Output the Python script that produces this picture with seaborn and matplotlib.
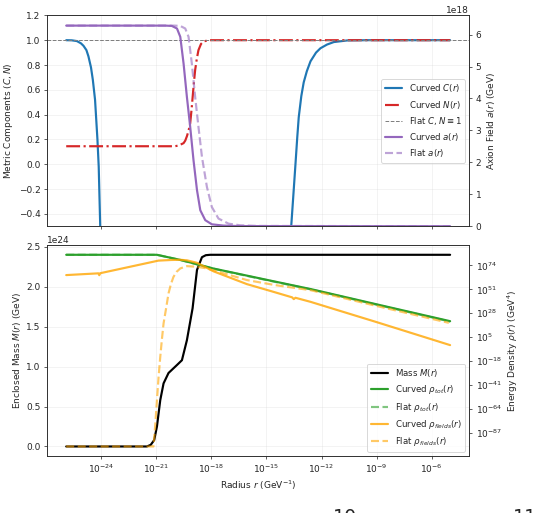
import numpy as np
import matplotlib
matplotlib.use("Agg")
import matplotlib.pyplot as plt
import seaborn as sns

# ---------------- data (log10 radius in GeV^-1) ----------------
# Top panel: metric components
logr_C = [-25.9, -25.6, -25.32, -25.1, -24.96, -24.8, -24.69, -24.55, -24.45, -24.33,
          -24.2, -24.13, -24.05, -23.95, -23.5, -19.0, -15.0, -14.0, -13.8, -13.65,
          -13.52, -13.41, -13.32, -13.24, -13.1, -12.97, -12.8, -12.6, -12.3, -12.06,
          -11.7, -11.33, -10.6, -9.5, -5.0]
C_curved = [1.0, 0.999, 0.993, 0.975, 0.955, 0.92, 0.87, 0.78, 0.68, 0.52,
            0.2, -0.02, -0.49, -1.2, -6.0, -60.0, -15.0, -2.0, -0.85, -0.5,
            -0.22, 0.02, 0.22, 0.38, 0.55, 0.66, 0.75, 0.83, 0.90, 0.935,
            0.965, 0.985, 0.998, 1.0, 1.0]

logr_N = [-25.9, -20.0, -19.79, -19.65, -19.51, -19.42, -19.33, -19.24, -19.15, -19.07,
          -19.0, -18.94, -18.88, -18.79, -18.70, -18.56, -18.42, -18.15, -5.0]
N_curved = [0.145, 0.145, 0.15, 0.16, 0.17, 0.19, 0.225, 0.27, 0.33, 0.45,
            0.57, 0.67, 0.76, 0.85, 0.92, 0.97, 0.99, 1.0, 1.0]

flat_CN = 1.0

# axion field (units of 1e18 GeV)
logr_a = [-25.9, -20.5, -20.15, -19.87, -19.69, -19.51, -19.33, -19.15, -18.97, -18.78,
          -18.60, -18.33, -17.97, -17.34, -16.5, -5.0]
a_curved = [6.28, 6.28, 6.27, 6.19, 5.93, 5.09, 4.05, 3.11, 2.07, 1.13,
            0.50, 0.19, 0.06, 0.02, 0.005, 0.0]
logr_af = [-25.9, -20.0, -19.69, -19.42, -19.24, -19.06, -18.88, -18.70, -18.51, -18.24,
           -17.97, -17.61, -17.06, -16.43, -15.5, -5.0]
a_flat = [6.28, 6.28, 6.27, 6.19, 5.93, 5.09, 4.05, 3.11, 2.17, 1.23,
          0.60, 0.24, 0.08, 0.03, 0.01, 0.0]

# Bottom panel: enclosed mass (units of 1e24 GeV)
logr_M = [-25.9, -21.8, -21.51, -21.3, -21.11, -20.96, -20.78, -20.60, -20.33, -19.87,
          -19.60, -19.33, -19.02, -18.78, -18.51, -18.3, -18.06, -5.0]
M_mass = [0.0, 0.0, 0.0, 0.02, 0.08, 0.25, 0.58, 0.79, 0.92, 1.02,
          1.08, 1.33, 1.73, 2.21, 2.37, 2.395, 2.4, 2.4]

# energy densities (log10 of GeV^4)
logr_tot = [-25.9, -20.96, -19.69, -17.88, -15.0, -12.6, -9.0, -5.0]
rho_tot_curved = [84.2, 84.2, 79.3, 71.0, 60.2, 51.3, 36.6, 20.4]
rho_tot_flat = [84.2, 84.2, 79.2, 70.8, 59.9, 51.0, 36.2, 20.0]

logr_fc = [-25.9, -24.23, -24.15, -24.10, -24.05, -20.88, -20.2, -19.69, -19.33, -18.78,
           -17.88, -16.06, -14.79, -13.6, -13.51, -13.42, -12.6, -9.0, -5.0]
rho_fields_curved = [64.7, 66.3, 66.4, 64.6, 66.5, 78.6, 79.2, 79.4, 78.9, 76.5,
                     68.3, 56.0, 49.5, 43.3, 41.6, 42.9, 39.0, 19.5, -2.6]

logr_ff = [-25.9, -21.3, -21.15, -21.06, -20.96, -20.87, -20.78, -20.69, -20.60, -20.45,
           -20.33, -20.2, -20.06, -19.88, -19.69, -19.33, -18.78, -18.24, -16.06, -14.5,
           -12.6, -9.0, -5.07]
rho_fields_flat = [-100.0, -100.0, -100.0, -81.0, -55.5, -33.0, -14.0, 3.0, 18.2, 34.0,
                   47.1, 56.0, 63.0, 68.0, 71.1, 73.3, 72.7, 71.1, 59.9, 55.0,
                   50.2, 35.0, 18.8]

def R(v):
    return 10.0 ** np.asarray(v, dtype=float)

# ---------------- style ----------------
sns.set_style("ticks")
plt.rcParams['font.family'] = ['DejaVu Sans']
plt.rcParams.update({
    'xtick.minor.size': 0, 'ytick.minor.size': 0,
    'legend.fontsize': 9.5,
})

DPI = 65
fig, (ax1, ax3) = plt.subplots(2, 1, sharex=True, figsize=(533 / DPI, 513 / DPI), dpi=DPI)
fig.subplots_adjust(left=0.0882, right=0.8805, top=0.970, bottom=0.111, hspace=0.09)
ax1.set_xscale('log')
ax2 = ax1.twinx()
ax4 = ax3.twinx()
ax4.set_yscale('log')

LW = 2.4

# ---- top panel ----
sns.lineplot(x=R(logr_C), y=C_curved, ax=ax1, color='#1f77b4', lw=LW,
             errorbar=None, label='Curved $C(r)$')
sns.lineplot(x=R(logr_N), y=N_curved, ax=ax1, color='#d62728', lw=LW, linestyle='-.',
             errorbar=None, label='Curved $N(r)$')
ax1.axhline(flat_CN, color='gray', lw=1.1, linestyle='--', label=r'Flat $C,N\equiv1$')
ax1.set_ylim(-0.5, 1.2)
ax1.set_ylabel('Metric Components $(C,N)$')
ax1.grid(True, alpha=0.3)

sns.lineplot(x=R(logr_a), y=np.array(a_curved) * 1e18, ax=ax2, color='#9467bd', lw=LW,
             errorbar=None, label='Curved $a(r)$')
sns.lineplot(x=R(logr_af), y=np.array(a_flat) * 1e18, ax=ax2, color='#9467bd', lw=LW,
             alpha=0.6, linestyle='--', errorbar=None, label='Flat $a(r)$')
ax2.set_ylim(0, 6.6e18)
ax2.set_ylabel('Axion Field $a(r)$ (GeV)')

h1, l1 = ax1.get_legend_handles_labels()
h2, l2 = ax2.get_legend_handles_labels()
for a in (ax1, ax2):
    if a.get_legend() is not None:
        a.get_legend().remove()
ax2.legend(h1 + h2, l1 + l2, loc='center right')

# ---- bottom panel ----
sns.lineplot(x=R(logr_M), y=np.array(M_mass) * 1e24, ax=ax3, color='black', lw=LW,
             errorbar=None, label='Mass $M(r)$')
ax3.set_ylabel('Enclosed Mass $M(r)$ (GeV)')
ax3.set_xlabel('Radius $r$ (GeV$^{-1}$)')
ax3.grid(True, alpha=0.3)

sns.lineplot(x=R(logr_tot), y=R(rho_tot_curved), ax=ax4, color='#2ca02c', lw=LW,
             errorbar=None, label=r'Curved $\rho_{tot}(r)$')
sns.lineplot(x=R(logr_tot), y=R(rho_tot_flat), ax=ax4, color='#2ca02c', lw=LW, alpha=0.6,
             linestyle='--', errorbar=None, label=r'Flat $\rho_{tot}(r)$')
sns.lineplot(x=R(logr_fc), y=R(rho_fields_curved), ax=ax4, color='orange', lw=LW,
             alpha=0.8, errorbar=None, label=r'Curved $\rho_{fields}(r)$')
sns.lineplot(x=R(logr_ff), y=R(rho_fields_flat), ax=ax4, color='orange', lw=LW, alpha=0.6,
             linestyle='--', errorbar=None, label=r'Flat $\rho_{fields}(r)$')
ax4.set_ylabel(r'Energy Density $\rho(r)$ (GeV$^4$)')

h3, l3 = ax3.get_legend_handles_labels()
h4, l4 = ax4.get_legend_handles_labels()
for a in (ax3, ax4):
    if a.get_legend() is not None:
        a.get_legend().remove()
ax4.legend(h3 + h4, l3 + l4, loc='lower right')

# partially visible text at the bottom edge
fig.text(333 / 533, 1 - 508 / 513, '10', fontsize=21, va='top', ha='left')
fig.text(513 / 533, 1 - 508 / 513, '11', fontsize=21, va='top', ha='left')

fig.savefig('out.png', dpi=DPI)
